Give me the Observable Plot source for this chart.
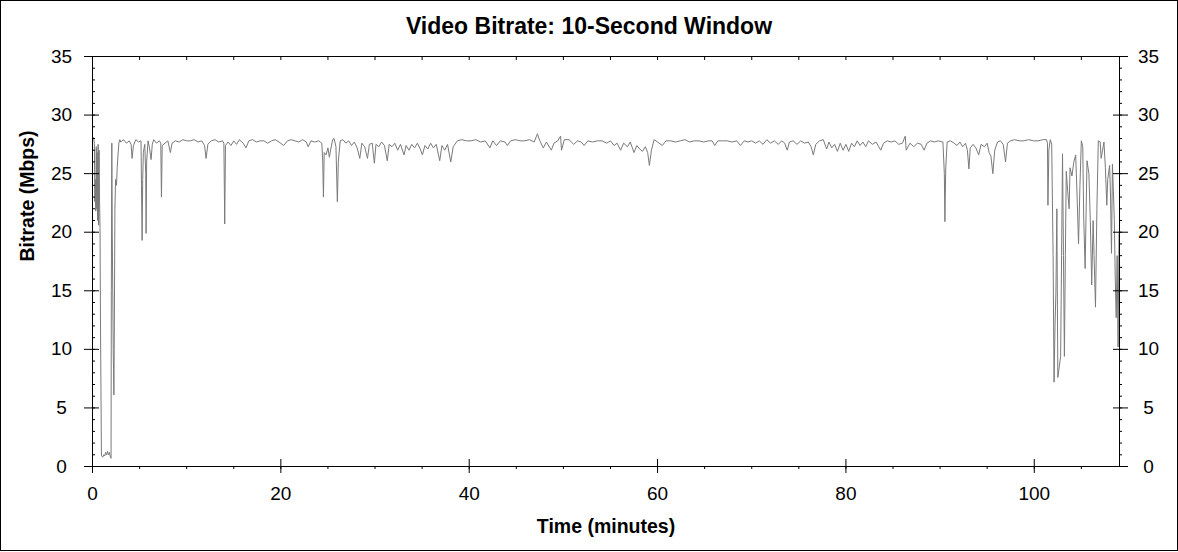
<!DOCTYPE html>
<html>
<head>
<meta charset="utf-8">
<script src="https://cdn.jsdelivr.net/npm/d3@7"></script>
<script src="https://cdn.jsdelivr.net/npm/@observablehq/plot@0.6"></script>
<style>
  body { margin: 0; background: #fff; }
  #chart {
    width: 1178px; height: 551px; box-sizing: border-box;
    border: 1px solid #000; background: #fff;
    font-family: "Liberation Sans", Arial, sans-serif;
  }
  #title {
    box-sizing: border-box; height: 39px; padding-top: 12px;
    line-height: 26px; text-align: center;
    font-size: 23px; font-weight: bold; color: #000;
  }
  #plot svg { display: block; }
</style>
</head>
<body>
<div id="chart">
  <div id="title">Video Bitrate: 10-Second Window</div>
  <div id="plot"></div>
</div>
<script>
// [minute, Mbps]
const opening = [
  [0, 27.9], [0.1, 28.1], [0.2, 27.6], [0.25, 22.6], [0.3, 24.5], [0.35, 21.8], [0.4, 27.3],
  [0.45, 22.0], [0.5, 26.8], [0.55, 21.0], [0.6, 27.5], [0.65, 20.6], [0.7, 27.0], [0.75, 22.5],
  [0.8, 20.4], [0.85, 12.0], [0.95, 0.9], [1.1, 0.8], [1.2, 1.0], [1.3, 0.9], [1.4, 1.2],
  [1.5, 1.0], [1.6, 1.3], [1.7, 1.0], [1.8, 1.2], [1.9, 0.8], [1.97, 0.7], [2.0, 15.0],
  [2.05, 27.6], [2.1, 20.0], [2.2, 10.0], [2.27, 6.1], [2.32, 12.0], [2.38, 22.0], [2.45, 24.5],
  [2.55, 24.0], [2.62, 25.5], [2.7, 26.5], [2.8, 27.6], [2.9, 27.9]
];

const feature = [
  [3.0, 27.7], [3.3, 27.9], [3.6, 27.6], [3.9, 27.8], [4.1, 27.5], [4.2, 26.3], [4.35, 27.4],
  [4.6, 27.9], [4.9, 27.7], [5.15, 27.8], [5.2, 24.0], [5.27, 19.3], [5.33, 24.5], [5.4, 26.8],
  [5.55, 27.5], [5.65, 25.0], [5.69, 19.9], [5.75, 26.0], [5.9, 27.8], [6.05, 27.2], [6.22, 26.2],
  [6.35, 27.5], [6.5, 27.9], [6.8, 27.6], [7.1, 27.8], [7.25, 27.6], [7.32, 23.0], [7.4, 27.4],
  [7.7, 27.6], [8.0, 27.8], [8.27, 26.8], [8.45, 27.6], [8.8, 27.8], [9.2, 27.7], [9.6, 27.9],
  [10.0, 27.8], [10.4, 27.8], [10.8, 27.9], [11.2, 27.7], [11.6, 27.8], [11.9, 27.4], [12.06, 26.3],
  [12.25, 27.5], [12.6, 27.8], [13.0, 27.9], [13.4, 27.7], [13.8, 27.8], [13.95, 27.6], [14.04, 20.7],
  [14.12, 27.4], [14.4, 27.7], [14.7, 27.4], [15.0, 27.8], [15.3, 27.5], [15.6, 27.9], [16.0, 27.6],
  [16.3, 27.2], [16.6, 27.8], [17.0, 27.9], [17.4, 27.7], [17.8, 27.8], [18.2, 27.8], [18.6, 27.6],
  [19.0, 27.8], [19.4, 27.9], [19.8, 27.7], [20.3, 27.4], [20.7, 27.8], [21.1, 27.9], [21.5, 27.8],
  [21.9, 27.7], [22.3, 27.9], [22.7, 27.7], [22.9, 27.3], [23.2, 27.8], [23.6, 27.7], [24.0, 27.8],
  [24.35, 27.6], [24.45, 26.0], [24.52, 23.0], [24.6, 26.8], [24.8, 26.6], [25.0, 27.2], [25.15, 26.4],
  [25.3, 27.1], [25.5, 27.9], [25.65, 28.0], [25.85, 27.3], [26.0, 22.6], [26.1, 26.0], [26.3, 27.8],
  [26.6, 27.9], [26.9, 27.6], [27.2, 27.8], [27.5, 27.4], [27.8, 27.7], [28.1, 27.2], [28.38, 26.3],
  [28.6, 27.6], [28.9, 27.3], [29.2, 26.3], [29.4, 27.5], [29.7, 27.6], [29.93, 25.9], [30.1, 27.5],
  [30.4, 27.3], [30.7, 27.7], [31.0, 27.4], [31.3, 26.1], [31.5, 27.5], [31.8, 27.3], [32.1, 27.6],
  [32.4, 27.0], [32.7, 27.5], [33.08, 26.6], [33.3, 27.4], [33.6, 27.0], [33.9, 27.5], [34.2, 27.2],
  [34.5, 27.6], [34.8, 27.1], [35.03, 26.6], [35.3, 27.4], [35.6, 27.1], [35.9, 27.6], [36.2, 27.2],
  [36.5, 27.5], [36.87, 26.1], [37.1, 27.4], [37.4, 27.0], [37.7, 27.5], [38.04, 26.0], [38.3, 27.3],
  [38.75, 27.8], [39.2, 27.9], [39.7, 27.8], [40.2, 27.8], [40.7, 27.9], [41.2, 27.7], [41.7, 27.8],
  [42.2, 27.2], [42.5, 27.8], [42.9, 27.4], [43.3, 27.8], [43.8, 27.7], [44.05, 27.4], [44.4, 27.8],
  [44.9, 27.9], [45.4, 27.8], [45.9, 27.8], [46.4, 27.9], [46.9, 27.7], [47.24, 28.4], [47.5, 27.8],
  [47.87, 27.2], [48.2, 27.7], [48.72, 27.0], [49.0, 27.6], [49.4, 27.8], [49.7, 28.2], [49.8, 27.0],
  [50.1, 27.9], [50.6, 27.9], [51.1, 27.5], [51.5, 27.8], [51.9, 27.7], [52.2, 27.4], [52.6, 27.8],
  [53.1, 27.7], [53.6, 27.8], [54.1, 27.8], [54.6, 27.6], [55.0, 27.8], [55.38, 27.4], [55.7, 27.6],
  [56.08, 27.0], [56.4, 27.6], [56.8, 27.3], [57.1, 27.7], [57.5, 26.8], [57.8, 27.4], [58.1, 27.1],
  [58.4, 26.9], [58.7, 27.3], [58.95, 26.8], [59.13, 25.7], [59.35, 27.0], [59.63, 27.9], [60.0, 27.7],
  [60.5, 27.4], [60.9, 27.8], [61.4, 27.8], [61.9, 27.7], [62.4, 27.8], [62.9, 27.9], [63.4, 27.7],
  [63.9, 27.8], [64.4, 27.8], [64.9, 27.7], [65.4, 27.8], [65.8, 27.8], [66.07, 27.4], [66.4, 27.8],
  [66.9, 27.8], [67.4, 27.8], [67.9, 27.7], [68.4, 27.8], [68.8, 27.4], [69.2, 27.8], [69.6, 27.7],
  [70.0, 27.8], [70.4, 27.6], [70.8, 27.8], [71.2, 27.5], [71.6, 27.9], [72.0, 27.6], [72.4, 27.8],
  [72.8, 27.5], [73.2, 27.8], [73.5, 27.6], [73.77, 27.0], [74.0, 27.7], [74.4, 27.8], [74.8, 27.5],
  [75.2, 27.8], [75.6, 27.6], [76.0, 27.7], [76.3, 27.3], [76.54, 26.6], [76.8, 27.5], [77.2, 27.8],
  [77.6, 27.9], [77.95, 27.1], [78.2, 27.7], [78.5, 27.2], [78.8, 27.5], [79.1, 26.9], [79.4, 27.6],
  [79.7, 27.0], [80.0, 27.5], [80.3, 26.9], [80.6, 27.6], [80.9, 27.3], [81.2, 27.8], [81.5, 27.4],
  [81.8, 27.7], [82.1, 27.3], [82.4, 27.8], [82.8, 27.5], [83.2, 27.7], [83.7, 27.0], [84.0, 27.6],
  [84.4, 27.8], [84.8, 27.7], [85.2, 27.8], [85.6, 27.5], [86.0, 27.6], [86.3, 28.2], [86.4, 27.0],
  [86.8, 27.6], [87.2, 27.3], [87.6, 27.6], [88.0, 27.5], [88.3, 27.0], [88.6, 27.6], [89.0, 27.8],
  [89.4, 27.7], [89.8, 27.8], [90.3, 27.7], [90.45, 25.0], [90.51, 20.9], [90.6, 25.5], [90.75, 27.7],
  [91.1, 27.8], [91.5, 27.6], [91.8, 27.4], [92.1, 27.7], [92.4, 27.3], [92.7, 27.6], [92.9, 27.0],
  [93.06, 25.4], [93.2, 27.2], [93.5, 27.5], [93.8, 27.2], [94.1, 26.6], [94.35, 27.5], [94.7, 27.3],
  [95.0, 27.6], [95.2, 26.8], [95.4, 26.5], [95.6, 25.0], [95.8, 27.0], [96.1, 27.7], [96.4, 27.8],
  [96.7, 27.5], [96.95, 26.0], [97.15, 27.6], [97.5, 27.8], [97.9, 27.9], [98.4, 27.8], [98.9, 27.8],
  [99.4, 27.9], [99.9, 27.8], [100.4, 27.8], [100.9, 27.9], [101.3, 27.9]
];

const credits = [
  [101.4, 27.6], [101.45, 22.3], [101.55, 27.0], [101.7, 27.9], [101.85, 27.5], [102.0, 18.0],
  [102.1, 7.2], [102.2, 12.0], [102.3, 14.9], [102.4, 22.0], [102.5, 7.6], [102.65, 8.5],
  [102.8, 9.4], [102.9, 18.0], [103.0, 26.7], [103.1, 18.0], [103.2, 9.4], [103.3, 18.0],
  [103.4, 25.2], [103.55, 23.5], [103.7, 22.0], [103.8, 25.5], [104.0, 24.8], [104.2, 26.0],
  [104.4, 26.6], [104.55, 23.0], [104.7, 19.0], [104.85, 24.0], [105.0, 27.8], [105.15, 27.3],
  [105.25, 21.2], [105.4, 16.9], [105.6, 26.1], [105.8, 25.0], [105.95, 21.0], [106.1, 15.5],
  [106.25, 21.0], [106.35, 18.0], [106.5, 13.6], [106.65, 22.0], [106.8, 27.8], [107.0, 27.7],
  [107.1, 26.3], [107.25, 27.0], [107.4, 27.7], [107.55, 25.5], [107.7, 22.3], [107.8, 24.5],
  [108.0, 25.7], [108.1, 23.0], [108.2, 18.2], [108.3, 25.8], [108.4, 23.5], [108.5, 21.0],
  [108.6, 16.0], [108.7, 12.7], [108.8, 18.0], [108.9, 10.2], [109.0, 20.0]
];

const xMajor = [0, 20, 40, 60, 80, 100];
const xMinor = d3.range(0, 110, 5);
const yMajor = [0, 5, 10, 15, 20, 25, 30, 35];
const yMinor = d3.range(0, 36, 1);

const bitrate = [...opening, ...feature, ...credits].map(([minute, mbps]) => ({minute, mbps}));

// plot box is 1027 x 410 inside the svg
const plotW = 1027, plotH = 410;

const chart = Plot.plot({
  width: 1176,
  height: 510,
  marginLeft: 91,
  marginRight: 58,
  marginTop: 16,
  marginBottom: 84,
  style: {fontFamily: '"Liberation Sans", Arial, sans-serif', background: "#fff", color: "#000", overflow: "visible"},
  x: {domain: [0, 109.05], axis: null},
  y: {domain: [0, 35], axis: null},
  marks: [
    Plot.line(bitrate, {x: "minute", y: "mbps", stroke: "#7a7a7a", strokeWidth: 1}),
    Plot.frame({stroke: "#000"}),
    // bottom ticks
    Plot.tickX(xMinor, {x: d => d, insetTop: plotH, insetBottom: -3, stroke: "#000"}),
    Plot.tickX(xMajor, {x: d => d, insetTop: plotH - 7, insetBottom: -7, stroke: "#000"}),
    // top ticks
    Plot.tickX(xMinor, {x: d => d, insetBottom: plotH - 4, stroke: "#000"}),
    // left ticks
    Plot.tickY(yMinor, {y: d => d, insetRight: plotW - 3, stroke: "#000"}),
    Plot.tickY(yMajor, {y: d => d, insetLeft: -8, insetRight: plotW - 7, stroke: "#000"}),
    // right ticks
    Plot.tickY(yMinor, {y: d => d, insetLeft: plotW, insetRight: -3, stroke: "#000"}),
    Plot.tickY(yMajor, {y: d => d, insetLeft: plotW - 6, insetRight: -9, stroke: "#000"}),
    // tick labels
    Plot.text(xMajor, {x: d => d, text: d => d, frameAnchor: "bottom", lineAnchor: "middle", dy: 27, fontSize: 19, fill: "#000"}),
    Plot.text(yMajor, {y: d => d, text: d => d, frameAnchor: "left", textAnchor: "middle", dx: -31, fontSize: 19, fill: "#000"}),
    Plot.text(yMajor, {y: d => d, text: d => d, frameAnchor: "right", textAnchor: "middle", dx: 29, fontSize: 19, fill: "#000"}),
    // axis titles
    Plot.text(["Time (minutes)"], {frameAnchor: "bottom", lineAnchor: "bottom", dy: 66, fontSize: 19.5, fontWeight: "bold", fill: "#000"}),
    Plot.text(["Bitrate (Mbps)"], {frameAnchor: "left", lineAnchor: "bottom", rotate: -90, dx: -59, fontSize: 19.5, fontWeight: "bold", fill: "#000"})
  ]
});

document.querySelector("#plot").append(chart);
</script>
</body>
</html>
